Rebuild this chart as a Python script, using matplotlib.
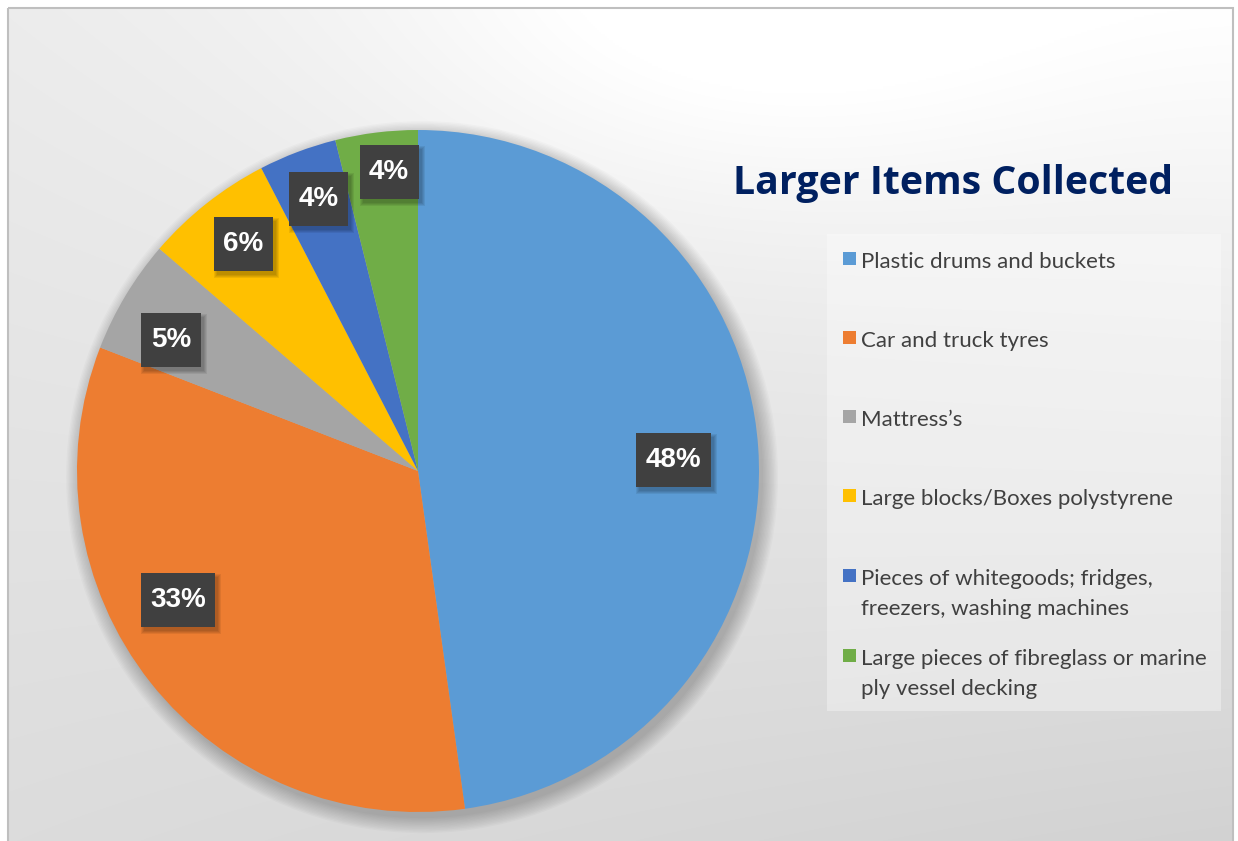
import numpy as np
import matplotlib
matplotlib.use("Agg")
import matplotlib.pyplot as plt
from matplotlib.patches import Rectangle, Circle

# data
items = ["Plastic drums and buckets",
         "Car and truck tyres",
         "Mattress\u2019s",
         "Large blocks/Boxes polystyrene",
         "Pieces of whitegoods; fridges,\nfreezers, washing machines",
         "Large pieces of fibreglass or marine\nply vessel decking"]
share = [47.8, 33.1, 5.4, 6.1, 3.7, 3.9]
colors = ["#5B9BD5", "#ED7D31", "#A5A5A5", "#FFC000", "#4472C4", "#70AD47"]

# label placement tweaks (radius fraction, angle shift in degrees)
lab_r = [0.75, 0.80, 0.82, 0.84, 0.85, 0.88]
lab_shift = [-1.5, -10, 3, -0.8, -0.6, -1.5]

W, H = 1238, 841
fig = plt.figure(figsize=(W / 100, H / 100), dpi=100)

# background axes in pixel coords
bg = fig.add_axes([0, 0, 1, 1])
bg.set_xlim(0, W)
bg.set_ylim(H, 0)
bg.axis("off")

# gradient inside frame
yy, xx = np.mgrid[0:1:400j, 0:1:600j]
drop = 19 - 17 * xx + 16 * yy + 27 * xx * yy
drop -= 14 * np.exp(-((xx - 0.6) ** 2 / 0.08 + yy ** 2 / 0.06))
drop = np.clip(drop, 0, None)
val = (255 - drop) / 255
img = np.dstack([val, val, val])
bg.imshow(img, extent=[8, 1233, 845, 8], aspect="auto", zorder=0,
          interpolation="bilinear")
bg.add_patch(Rectangle((8, 8), 1225, 840, fill=False, ec="#BFBFBF", lw=1.5, zorder=1))

# title
bg.text(953, 194, "Larger Items Collected", fontsize=28.3, fontweight="bold",
        color="#002060", ha="center", va="baseline", family=["Open Sans", "DejaVu Sans"], zorder=3)

# legend box
bg.add_patch(Rectangle((827, 234), 394, 477, fc="white", alpha=0.35, ec="none", zorder=2))
base_y = [268, 347, 426, 505, 585, 665]
for lab, c, by in zip(items, colors, base_y):
    bg.add_patch(Rectangle((843, by - 16), 13, 13, fc=c, ec="none", zorder=3))
    for j, line in enumerate(lab.split("\n")):
        bg.text(861, by + 30 * j, line, fontsize=16, color="#404040", ha="left",
                va="baseline", family=["Lato", "DejaVu Sans"], zorder=3)

# pie axes
R = 341
cx, cy = 418, 471
ax = fig.add_axes([(cx - R) / W, (H - cy - R) / H, 2 * R / W, 2 * R / H])
ax.axis("off")

# soft shadow
for i in range(12):
    ax.add_patch(Circle((0.012, -0.018), 1.0 + i * 0.004, color="k", alpha=0.018,
                        lw=0, zorder=0, clip_on=False))

wedges, _ = ax.pie(share, colors=colors, startangle=90, counterclock=False,
                   radius=1, wedgeprops=dict(linewidth=0))
for w in wedges:
    w.set_zorder(1)
ax.set_xlim(-1, 1)
ax.set_ylim(-1, 1)

texts = []
for w, v, r, s in zip(wedges, share, lab_r, lab_shift):
    mid = np.deg2rad((w.theta1 + w.theta2) / 2 + s)
    t = ax.text(r * np.cos(mid), r * np.sin(mid), f"{v:.0f}%", fontsize=20,
                fontweight="bold", color="white", ha="center", va="center",
                family=["Liberation Sans", "DejaVu Sans"], zorder=6)
    texts.append(t)

# dark label boxes sized from the text, with a soft drop shadow
fig.canvas.draw()
px = 1 / R
for t in texts:
    ext = t.get_window_extent()
    bw = (ext.width + 19) * px
    bh = 54 * px
    x0, y0 = t.get_position()
    for k in range(4):
        g = (3 - k) * px
        ax.add_patch(Rectangle((x0 - bw / 2 + 3 * px - g, y0 - bh / 2 - 4 * px - g),
                               bw + 2 * g, bh + 2 * g, fc="black", alpha=0.07,
                               ec="none", zorder=4))
    ax.add_patch(Rectangle((x0 - bw / 2, y0 - bh / 2), bw, bh, fc="#404040",
                           ec="none", zorder=5))

fig.savefig("out.png", dpi=100)
